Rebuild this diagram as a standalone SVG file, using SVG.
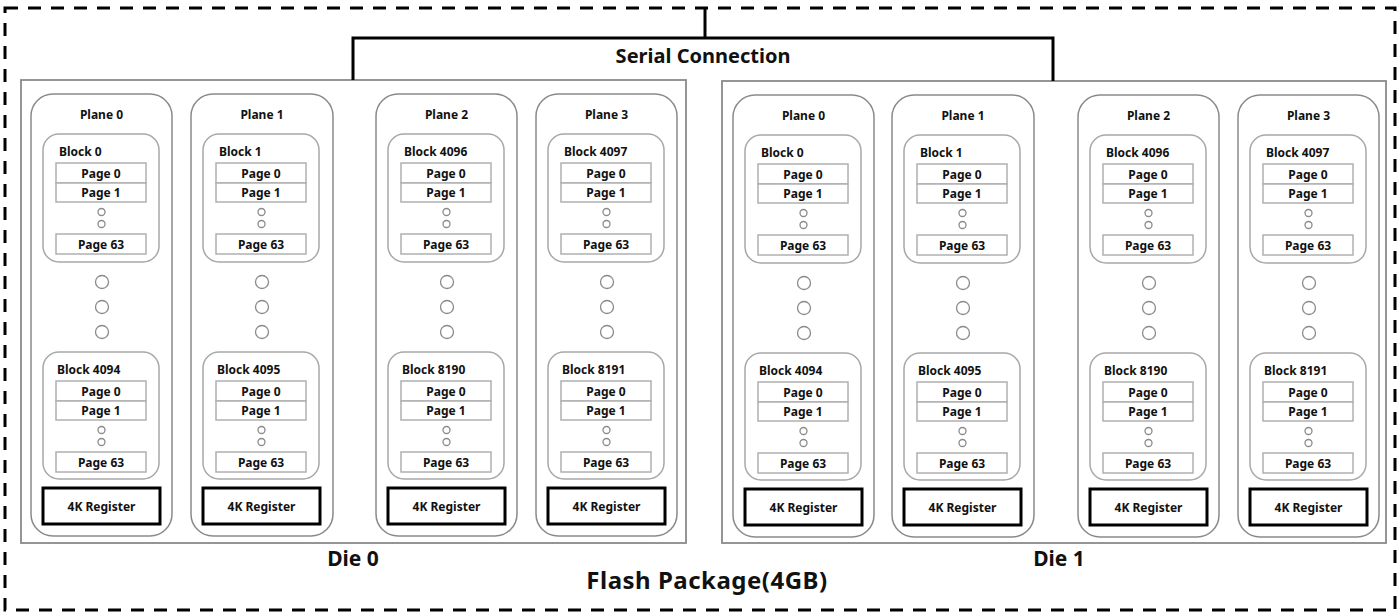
<svg xmlns="http://www.w3.org/2000/svg" xmlns:xlink="http://www.w3.org/1999/xlink" width="1400" height="616" viewBox="0 0 1400 616">
<style>
text{font-family:"Noto Sans","Liberation Sans",sans-serif;font-weight:bold;fill:#111}
.t12{font-size:12px}
.mid{text-anchor:middle}
.plane{fill:#fff;stroke:#8a8a8a;stroke-width:1.5}
.block{fill:#fff;stroke:#a8a8a8;stroke-width:1.5}
.page{fill:#fff;stroke:#b0b0b0;stroke-width:1.5}
.dot{fill:#fff;stroke:#8a8a8a;stroke-width:1.3}
.reg{fill:#fff;stroke:#000;stroke-width:3}
.die{fill:#fff;stroke:#8a8a8a;stroke-width:1.8}
.conn{fill:none;stroke:#000;stroke-width:3}
</style>
<defs>
<g id="stack">
<rect class="page" x="25" y="0" width="90" height="20"/>
<rect class="page" x="25" y="20" width="90" height="19"/>
<text class="t12 mid" x="70" y="15">Page 0</text>
<text class="t12 mid" x="70" y="34">Page 1</text>
<circle class="dot" cx="70.5" cy="49" r="3.5"/>
<circle class="dot" cx="70.5" cy="61" r="3.5"/>
<rect class="page" x="25" y="71" width="90" height="20"/>
<text class="t12 mid" x="70" y="86">Page 63</text>
</g>
<g id="bigdots">
<circle class="dot" cx="71" cy="188" r="6.5"/>
<circle class="dot" cx="71" cy="213" r="6.5"/>
<circle class="dot" cx="71" cy="238" r="6.5"/>
</g>
</defs>
<rect x="0" y="0" width="1400" height="616" fill="#fff"/>
<g id="package">
<rect x="5" y="8" width="1390" height="602" fill="none" stroke="#000" stroke-width="3" stroke-dasharray="13,10"/>
<text x="707" y="589" class="mid" font-size="24" letter-spacing="0.5">Flash Package(4GB)</text>
</g>
<g id="die0">
<rect class="die" x="21" y="80" width="665" height="463"/>
<text x="353" y="566" class="mid" font-size="21">Die 0</text>
</g>
<g id="die1">
<rect class="die" x="722" y="81" width="664" height="462"/>
<text x="1059" y="566" class="mid" font-size="21">Die 1</text>
</g>
<g id="connectors">
<polyline class="conn" points="705,8 705,38"/>
<polyline class="conn" points="353,80 353,38 1053,38 1053,81"/>
<text x="703" y="63" class="mid" font-size="20">Serial Connection</text>
</g>

<g id="d0-plane0" transform="translate(31,94)">
<rect class="plane" x="0" y="0" width="141" height="442" rx="22"/>
<text class="t12 mid" x="70.5" y="25">Plane 0</text>
<rect class="block" x="12" y="40" width="116" height="128" rx="16"/>
<text class="t12" x="28" y="62">Block 0</text>
<use xlink:href="#stack" y="69"/>
<use xlink:href="#bigdots"/>
<rect class="block" x="12" y="258" width="116" height="127" rx="16"/>
<text class="t12" x="26" y="280">Block 4094</text>
<use xlink:href="#stack" y="287"/>
<rect class="reg" x="12" y="394" width="117" height="36"/>
<text class="t12 mid" x="70.5" y="417">4K Register</text>
</g>
<g id="d0-plane1" transform="translate(191,94)">
<rect class="plane" x="0" y="0" width="142" height="442" rx="22"/>
<text class="t12 mid" x="71" y="25">Plane 1</text>
<rect class="block" x="12" y="40" width="116" height="128" rx="16"/>
<text class="t12" x="28" y="62">Block 1</text>
<use xlink:href="#stack" y="69"/>
<use xlink:href="#bigdots"/>
<rect class="block" x="12" y="258" width="116" height="127" rx="16"/>
<text class="t12" x="26" y="280">Block 4095</text>
<use xlink:href="#stack" y="287"/>
<rect class="reg" x="12" y="394" width="117" height="36"/>
<text class="t12 mid" x="70.5" y="417">4K Register</text>
</g>
<g id="d0-plane2" transform="translate(376,94)">
<rect class="plane" x="0" y="0" width="141" height="442" rx="22"/>
<text class="t12 mid" x="70.5" y="25">Plane 2</text>
<rect class="block" x="12" y="40" width="116" height="128" rx="16"/>
<text class="t12" x="28" y="62">Block 4096</text>
<use xlink:href="#stack" y="69"/>
<use xlink:href="#bigdots"/>
<rect class="block" x="12" y="258" width="116" height="127" rx="16"/>
<text class="t12" x="26" y="280">Block 8190</text>
<use xlink:href="#stack" y="287"/>
<rect class="reg" x="12" y="394" width="117" height="36"/>
<text class="t12 mid" x="70.5" y="417">4K Register</text>
</g>
<g id="d0-plane3" transform="translate(536,94)">
<rect class="plane" x="0" y="0" width="141" height="442" rx="22"/>
<text class="t12 mid" x="70.5" y="25">Plane 3</text>
<rect class="block" x="12" y="40" width="116" height="128" rx="16"/>
<text class="t12" x="28" y="62">Block 4097</text>
<use xlink:href="#stack" y="69"/>
<use xlink:href="#bigdots"/>
<rect class="block" x="12" y="258" width="116" height="127" rx="16"/>
<text class="t12" x="26" y="280">Block 8191</text>
<use xlink:href="#stack" y="287"/>
<rect class="reg" x="12" y="394" width="117" height="36"/>
<text class="t12 mid" x="70.5" y="417">4K Register</text>
</g>

<g id="d1-plane0" transform="translate(733,95)">
<rect class="plane" x="0" y="0" width="141" height="442" rx="22"/>
<text class="t12 mid" x="70.5" y="25">Plane 0</text>
<rect class="block" x="12" y="40" width="116" height="128" rx="16"/>
<text class="t12" x="28" y="62">Block 0</text>
<use xlink:href="#stack" y="69"/>
<use xlink:href="#bigdots"/>
<rect class="block" x="12" y="258" width="116" height="127" rx="16"/>
<text class="t12" x="26" y="280">Block 4094</text>
<use xlink:href="#stack" y="287"/>
<rect class="reg" x="12" y="394" width="117" height="36"/>
<text class="t12 mid" x="70.5" y="417">4K Register</text>
</g>
<g id="d1-plane1" transform="translate(892,95)">
<rect class="plane" x="0" y="0" width="142" height="442" rx="22"/>
<text class="t12 mid" x="71" y="25">Plane 1</text>
<rect class="block" x="12" y="40" width="116" height="128" rx="16"/>
<text class="t12" x="28" y="62">Block 1</text>
<use xlink:href="#stack" y="69"/>
<use xlink:href="#bigdots"/>
<rect class="block" x="12" y="258" width="116" height="127" rx="16"/>
<text class="t12" x="26" y="280">Block 4095</text>
<use xlink:href="#stack" y="287"/>
<rect class="reg" x="12" y="394" width="117" height="36"/>
<text class="t12 mid" x="70.5" y="417">4K Register</text>
</g>
<g id="d1-plane2" transform="translate(1078,95)">
<rect class="plane" x="0" y="0" width="141" height="442" rx="22"/>
<text class="t12 mid" x="70.5" y="25">Plane 2</text>
<rect class="block" x="12" y="40" width="116" height="128" rx="16"/>
<text class="t12" x="28" y="62">Block 4096</text>
<use xlink:href="#stack" y="69"/>
<use xlink:href="#bigdots"/>
<rect class="block" x="12" y="258" width="116" height="127" rx="16"/>
<text class="t12" x="26" y="280">Block 8190</text>
<use xlink:href="#stack" y="287"/>
<rect class="reg" x="12" y="394" width="117" height="36"/>
<text class="t12 mid" x="70.5" y="417">4K Register</text>
</g>
<g id="d1-plane3" transform="translate(1238,95)">
<rect class="plane" x="0" y="0" width="141" height="442" rx="22"/>
<text class="t12 mid" x="70.5" y="25">Plane 3</text>
<rect class="block" x="12" y="40" width="116" height="128" rx="16"/>
<text class="t12" x="28" y="62">Block 4097</text>
<use xlink:href="#stack" y="69"/>
<use xlink:href="#bigdots"/>
<rect class="block" x="12" y="258" width="116" height="127" rx="16"/>
<text class="t12" x="26" y="280">Block 8191</text>
<use xlink:href="#stack" y="287"/>
<rect class="reg" x="12" y="394" width="117" height="36"/>
<text class="t12 mid" x="70.5" y="417">4K Register</text>
</g>
</svg>
